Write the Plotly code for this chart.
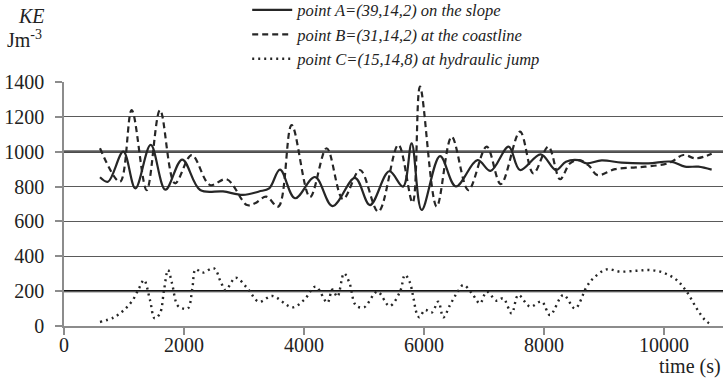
import plotly.graph_objects as go

# Kinetic energy time series at three sample points
t_a = [600, 733, 989, 1190, 1445, 1690, 1970, 2270, 2650, 2983, 3250, 3420, 3600, 3850,
       4183, 4475, 4850, 5100, 5420, 5650, 5794, 5961, 6267, 6530, 6890, 7110, 7410,
       7600, 7945, 8200, 8365, 8572, 8711, 8961, 9294, 9739, 10115, 10350, 10572, 10794]
ke_a = [853, 828, 1000, 790, 1039, 782, 955, 780, 772, 752, 772, 790, 897, 733,
        855, 688, 850, 694, 888, 800, 1048, 666, 975, 801, 952, 890, 1029,
        895, 985, 895, 943, 952, 933, 950, 937, 933, 943, 914, 914, 897]

t_b = [600, 933, 1128, 1378, 1600, 1850, 2128, 2433, 2711, 3050, 3183, 3370, 3572, 3794,
       4100, 4378, 4650, 4933, 5239, 5572, 5810, 5933, 6211, 6461, 6739, 7044, 7280,
       7600, 7822, 8072, 8267, 8433, 8590, 8750, 8890, 9183, 9530, 9683, 10080, 10322,
       10530, 10794]
ke_b = [1020, 828, 1239, 780, 1239, 819, 981, 809, 842, 694, 704, 742, 685, 1153,
        740, 1020, 728, 895, 656, 1039, 708, 1373, 685, 1086, 780, 1029, 814,
        1115, 876, 1029, 842, 933, 952, 919, 866, 900, 910, 914, 935, 981,
        962, 988]

t_c = [600, 833, 1000, 1139, 1250, 1333, 1433, 1511, 1600, 1667, 1733, 1800, 1889, 1972,
       2067, 2139, 2194, 2306, 2500, 2611, 2694, 2861, 3056, 3250, 3472, 3806, 4000,
       4194, 4389, 4472, 4556, 4667, 4760, 4861, 5000, 5222, 5425, 5600, 5683, 5760,
       5820, 5878, 5922, 6017, 6128, 6239, 6322, 6433, 6544, 6656, 6800, 6933, 7044,
       7211, 7320, 7461, 7572, 7767, 7961, 8100, 8322, 8517, 8711, 8822, 9044, 9267,
       9544, 9767, 9989, 10211, 10378, 10544, 10683, 10794]
ke_c = [23, 50, 92, 145, 216, 264, 149, 44, 73, 206, 321, 245, 120, 101,
        101, 216, 325, 306, 331, 254, 206, 277, 216, 139, 172, 107, 149,
        226, 134, 210, 168, 302, 245, 120, 107, 197, 115, 197, 293, 254,
        168, 73, 50, 92, 77, 140, 50, 120, 187, 235, 187, 130, 197,
        145, 159, 73, 178, 111, 140, 63, 178, 101, 226, 274, 325, 312,
        317, 321, 306, 264, 197, 101, 34, 6]

series_names = ["<i>point A=(39,14,2) on the slope</i>",
                "<i>point B=(31,14,2) at the coastline</i>",
                "<i>point C=(15,14,8) at hydraulic jump</i>"]

y_ticks = [0, 200, 400, 600, 800, 1000, 1200, 1400]
x_ticks = [0, 2000, 4000, 6000, 8000, 10000]
strong_grid = [200, 1000]

ink = "#262626"
SERIF = "Liberation Serif"
txt = "#222222"
axis_grey = "#8c8c8c"

fig = go.Figure()
fig.add_trace(go.Scatter(x=t_a, y=ke_a, name=series_names[0], mode="lines",
                         line=dict(color=ink, width=2.2, shape="spline", smoothing=1.0)))
fig.add_trace(go.Scatter(x=t_b, y=ke_b, name=series_names[1], mode="lines",
                         line=dict(color=ink, width=2.2, dash="6px,4px", shape="spline", smoothing=1.0)))
fig.add_trace(go.Scatter(x=t_c, y=ke_c, name=series_names[2], mode="lines",
                         line=dict(color=ink, width=2.4, dash="2px,4px", shape="spline", smoothing=1.0)))

for v in strong_grid:
    fig.add_shape(type="line", xref="paper", x0=0, x1=1, yref="y", y0=v, y1=v,
                  line=dict(color="#111111", width=2.2), layer="below")

fig.update_layout(
    width=723, height=380,
    margin=dict(l=64, r=0, t=82, b=54, autoexpand=False),
    paper_bgcolor="white", plot_bgcolor="white",
    font=dict(family=SERIF, size=20, color=txt),
    showlegend=True,
    legend=dict(x=0.278, xanchor="left", yref="paper", y=1.366, yanchor="top",
                font=dict(family=SERIF, size=16.5, color=txt),
                bgcolor="rgba(0,0,0,0)", tracegroupgap=0, itemwidth=40),
    xaxis=dict(range=[0, 10983], tickvals=x_ticks, ticktext=[str(v) for v in x_ticks],
               showgrid=False, zeroline=False, showline=True, linecolor=axis_grey, linewidth=1.6,
               ticks="outside", ticklen=7, tickcolor=axis_grey, tickwidth=1.6,
               ticklabelstandoff=-7,
               tickfont=dict(family=SERIF, size=20, color=txt)),
    yaxis=dict(range=[0, 1400], tickvals=y_ticks, ticktext=[str(v) for v in y_ticks],
               showgrid=True, gridcolor="#5a5a5a", gridwidth=1.4, zeroline=False,
               showline=True, linecolor=axis_grey, linewidth=1.6,
               ticks="outside", ticklen=7, tickcolor=axis_grey, tickwidth=1.6,
               ticklabelstandoff=7,
               tickfont=dict(family=SERIF, size=20, color=txt)),
)

fig.add_annotation(text="<i>KE</i>", xref="paper", yref="paper", x=-0.05, y=1.27,
                   xanchor="center", yanchor="middle", showarrow=False,
                   font=dict(family=SERIF, size=20, color=txt))
fig.add_annotation(text="Jm<sup>-3</sup>", xref="paper", yref="paper", x=-0.06, y=1.175,
                   xanchor="center", yanchor="middle", showarrow=False,
                   font=dict(family=SERIF, size=20, color=txt))
fig.add_annotation(text="time (s)", xref="paper", yref="paper", x=1.0, y=-0.165,
                   xanchor="right", yanchor="middle", showarrow=False,
                   font=dict(family=SERIF, size=20, color=txt))

fig.write_html("out.html")
